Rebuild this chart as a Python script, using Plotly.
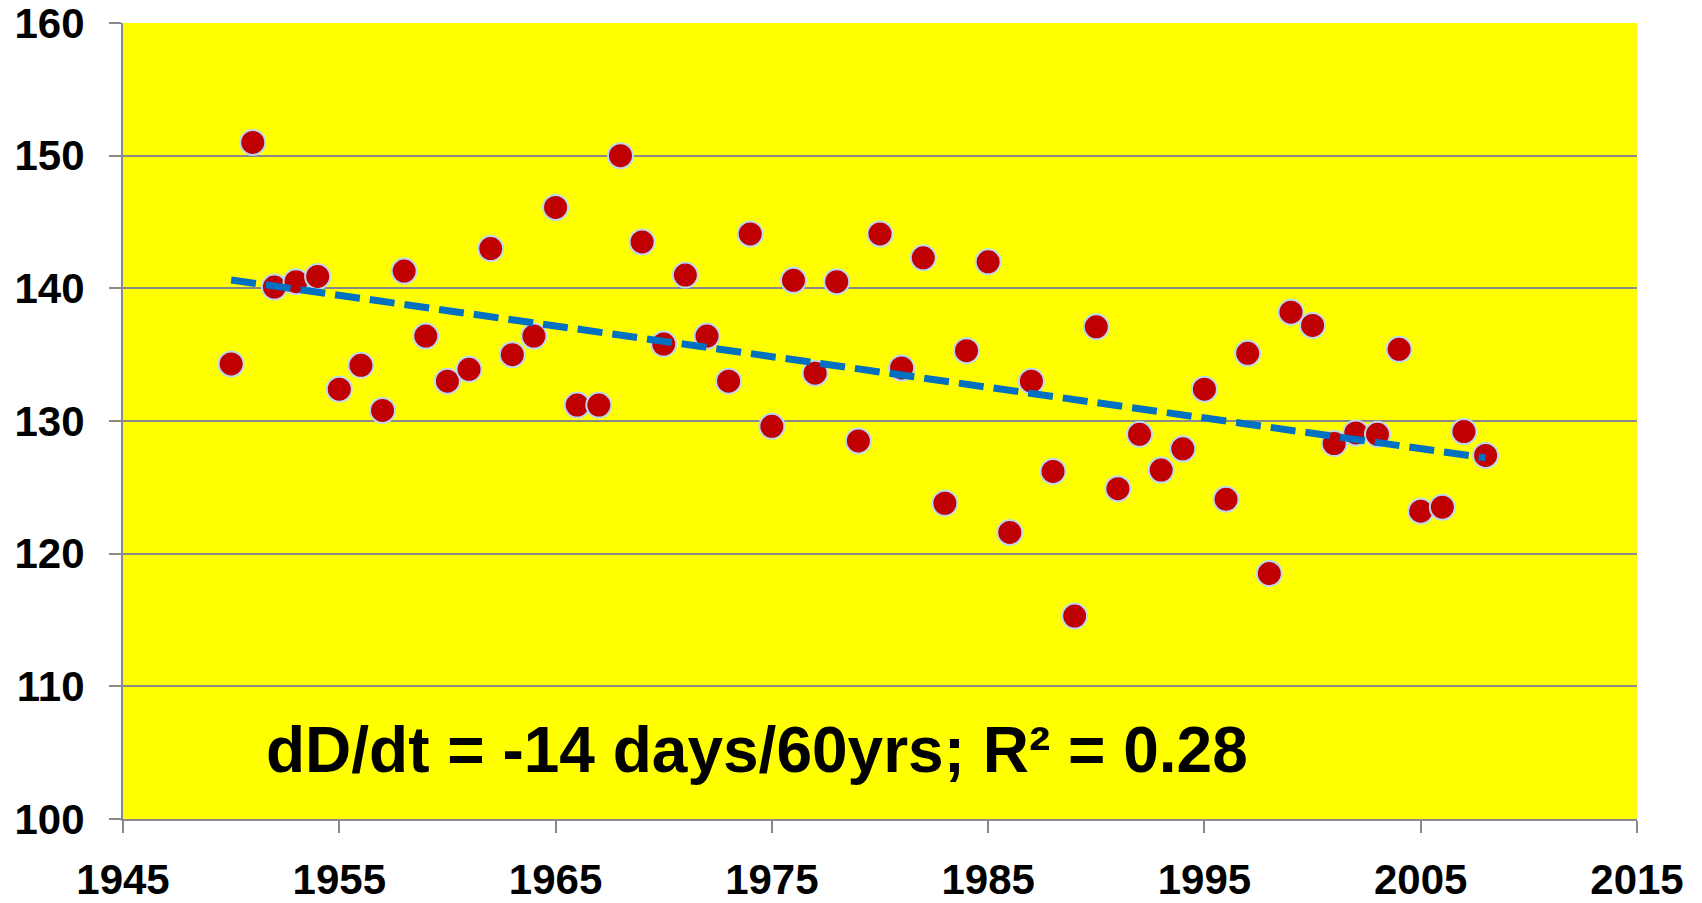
import numpy as np
import plotly.graph_objects as go

years = list(range(1950, 2009))
days = [134.3, 151.0, 140.1, 140.5, 140.9, 132.4, 134.2, 130.8, 141.3, 136.4,
        133.0, 133.9, 143.0, 135.0, 136.4, 146.1, 131.2, 131.2, 150.0, 143.5,
        135.8, 141.0, 136.4, 133.0, 144.1, 129.6, 140.6, 133.6, 140.5, 128.5,
        144.1, 134.0, 142.3, 123.8, 135.3, 142.0, 121.6, 133.0, 126.2, 115.3,
        137.1, 124.9, 129.0, 126.3, 127.9, 132.4, 124.1, 135.1, 118.5, 138.2,
        137.2, 128.3, 129.1, 129.0, 135.4, 123.2, 123.5, 129.2, 127.4]
x_ticks = [1945, 1955, 1965, 1975, 1985, 1995, 2005, 2015]
y_ticks = [100, 110, 120, 130, 140, 150, 160]
annotation_text = "dD/dt = -14 days/60yrs; R\u00b2 = 0.28"

# linear trendline (as in the original spreadsheet)
slope, intercept = np.polyfit(years, days, 1)
trend_x = [years[0], years[-1]]
trend_y = [slope * v + intercept for v in trend_x]

FONT = "Liberation Sans, Arial, sans-serif"
GRID = "#898989"

fig = go.Figure()
fig.add_trace(go.Scatter(
    x=years, y=days, mode="markers",
    marker=dict(size=25, color="#C00000", line=dict(color="#BDD7EE", width=2)),
    showlegend=False, hoverinfo="x+y"))
fig.add_trace(go.Scatter(
    x=trend_x, y=trend_y, mode="lines",
    line=dict(color="#0070C0", width=7, dash="25px,10px"),
    showlegend=False, hoverinfo="skip"))

fig.add_annotation(
    x=1974.3, y=105.2, xref="x", yref="y", text=annotation_text,
    showarrow=False, xanchor="center", yanchor="middle",
    font=dict(family=FONT, size=64, color="black", weight="bold"))

# page body has an 8px default margin, so the figure is offset by 8px
fig.update_layout(
    width=1694, height=895,
    margin=dict(l=115, r=65, t=15, b=84),
    paper_bgcolor="white", plot_bgcolor="#FFFF00",
    font=dict(family=FONT, color="black"),
)
fig.update_xaxes(
    range=[1945, 2015], tickmode="array", tickvals=x_ticks,
    ticktext=[str(v) for v in x_ticks], automargin=False,
    ticklabeloverflow="allow",
    showgrid=False, zeroline=False,
    showline=True, linecolor=GRID, linewidth=2,
    ticks="outside", ticklen=12, tickwidth=2, tickcolor=GRID,
    tickfont=dict(family=FONT, size=42, color="black", weight="bold"),
    ticklabelstandoff=11)
fig.update_yaxes(
    range=[100, 160], tickmode="array", tickvals=y_ticks,
    ticktext=[str(v) for v in y_ticks], automargin=False,
    ticklabeloverflow="allow",
    showgrid=True, gridcolor=GRID, gridwidth=2, zeroline=False,
    showline=True, linecolor=GRID, linewidth=2,
    ticks="outside", ticklen=12, tickwidth=2, tickcolor=GRID,
    tickfont=dict(family=FONT, size=42, color="black", weight="bold"),
    ticklabelstandoff=16)

fig.write_html("out.html")
